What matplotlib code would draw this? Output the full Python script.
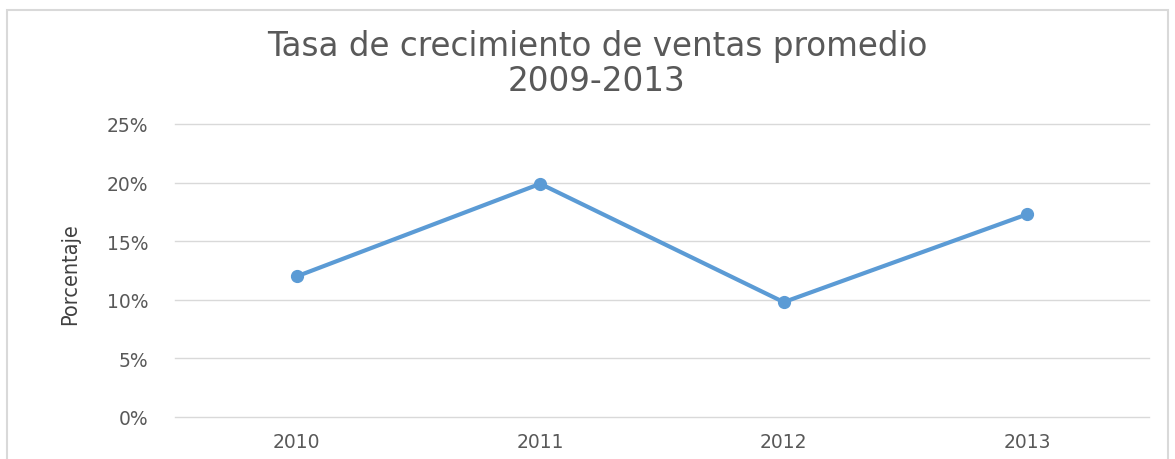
import numpy as np
import matplotlib.pyplot as plt
from matplotlib.patches import Rectangle
from matplotlib.ticker import FuncFormatter

years = ['2010', '2011', '2012', '2013']
growth = [12.0, 19.9, 9.8, 17.3]
y_ticks = [0, 5, 10, 15, 20, 25]

W, H = 1175, 460
plt.rcParams['font.family'] = ['DejaVu Sans']
fig = plt.figure(figsize=(W / 100, H / 100), dpi=100)

# chart border
fig.patches.append(Rectangle((7 / W, -0.05), (1168 - 7) / W, 1.05 - 11 / H,
                             transform=fig.transFigure, fill=False,
                             edgecolor='#d9d9d9', linewidth=1.5))

ax = fig.add_axes([175 / W, 1 - 418 / H, (1149 - 175) / W, (418 - 125) / H])
x = np.arange(len(years))
ax.plot(x, growth, color='#5b9bd5', linewidth=3, marker='o', markersize=8.5,
        solid_capstyle='round', zorder=3)

ax.set_xlim(-0.5, len(years) - 0.5)
ax.set_ylim(0, 25)
ax.set_yticks(y_ticks)
ax.yaxis.set_major_formatter(FuncFormatter(lambda v, p: f'{v:.0f}%'))
ax.set_xticks(x)
ax.set_xticklabels(years)
ax.grid(axis='y', color='#d9d9d9', linewidth=1)
for gl in ax.get_ygridlines():
    gl.set_clip_on(False)
ax.set_axisbelow(True)
for s in ax.spines.values():
    s.set_visible(False)
ax.tick_params(length=0, labelsize=13.5, colors='#595959')
ax.tick_params(axis='x', pad=11)
ax.tick_params(axis='y', pad=19)

fig.text(70 / W, 1 - 274 / H, 'Porcentaje', rotation=90, ha='center', va='center',
         fontsize=15.5, color='#404040', fontstretch='condensed')

fig.text(597 / W, 1 - 64 / H, 'Tasa de crecimiento de ventas promedio\n2009-2013',
         ha='center', va='center', fontsize=23.5, color='#595959', linespacing=1.1)

fig.savefig('out.png', dpi=100)
